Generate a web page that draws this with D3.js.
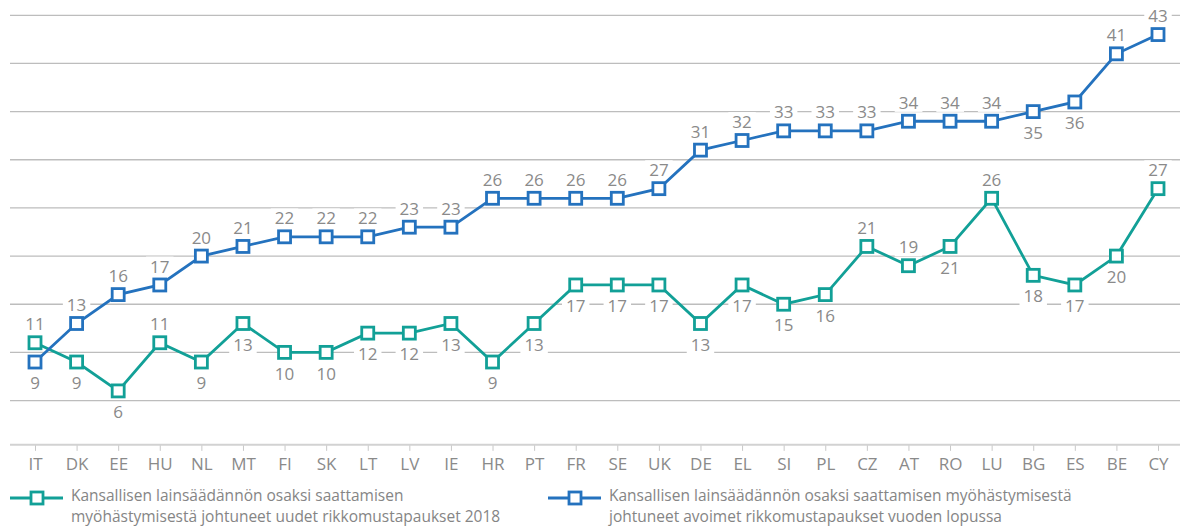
<!DOCTYPE html>
<html>
<head>
<meta charset="utf-8">
<script src="https://cdn.jsdelivr.net/npm/d3@7"></script>
<style>
  body { margin: 0; background: #fff; }
  svg { display: block; font-family: "Open Sans", "DejaVu Sans", sans-serif; }
</style>
</head>
<body>
<div id="chart"></div>
<script>
var countries = ["IT","DK","EE","HU","NL","MT","FI","SK","LT","LV","IE","HR","PT","FR","SE","UK","DE","EL","SI","PL","CZ","AT","RO","LU","BG","ES","BE","CY"];
var newCases = [11,9,6,11,9,13,10,10,12,12,13,9,13,17,17,17,13,17,15,16,21,19,21,26,18,17,20,27];
var openCases = [9,13,16,17,20,21,22,22,22,23,23,26,26,26,26,27,31,32,33,33,33,34,34,34,35,36,41,43];
// which side the value label goes: a = above, b = below
var newSide  = "abbabbb" + "bbbbbbb" + "bbbbbba" + "ababbba";
var openSide = "baaaaaa" + "aaaaaaa" + "aaaaaaa" + "aaabbaa";
var gridTicks = [5,10,15,20,25,30,35,40,45];
var legendNew = ["Kansallisen lainsäädännön osaksi saattamisen", "myöhästymisestä johtuneet uudet rikkomustapaukset 2018"];
var legendOpen = ["Kansallisen lainsäädännön osaksi saattamisen myöhästymisestä", "johtuneet avoimet rikkomustapaukset vuoden lopussa"];

var width = 1180, height = 526;
var green = "#12a097", blue = "#2472be", textGrey = "#8a8a8a";

var svg = d3.select("#chart").append("svg")
  .attr("width", width)
  .attr("height", height);

var gridG = svg.append("g");
var axisG = svg.append("g");
var boxG = svg.append("g");
var lineG = svg.append("g");
var labelG = svg.append("g");
var legendG = svg.append("g");

var x = d3.scalePoint().domain(countries).range([35, 1158]);
var y = d3.scaleLinear().domain([0, 45]).range([448.7, 15.3]);

// grid
gridG.selectAll("line").data(gridTicks).enter().append("line")
  .attr("x1", 10).attr("x2", width)
  .attr("y1", function(d) { return y(d); })
  .attr("y2", function(d) { return y(d); })
  .attr("stroke", "#bdbdbd")
  .attr("stroke-width", 1.3);

// x axis
axisG.attr("transform", "translate(0," + y(0.4) + ")")
  .call(d3.axisBottom(x).tickSize(6).tickPadding(7));
axisG.select(".domain").remove();
axisG.append("line")
  .attr("x1", 10).attr("x2", width)
  .attr("stroke", "#d2d2d2").attr("stroke-width", 2);
axisG.selectAll(".tick line").attr("stroke", "#c8c8c8");
axisG.selectAll(".tick text")
  .attr("fill", textGrey)
  .style("font-size", "17px")
  .style("font-family", "'Open Sans', sans-serif");

var series = [
  { values: newCases, side: newSide, color: green },
  { values: openCases, side: openSide, color: blue }
];

function labelY(s, i) {
  var cy = y(s.values[i]);
  return s.side[i] == "a" ? cy - 18.5 : cy + 21;
}

// value labels, with white boxes under them that knock out the grid
series.forEach(function(s) {
  s.values.forEach(function(v, i) {
    var t = labelG.append("text")
      .attr("x", x(countries[i]))
      .attr("y", labelY(s, i))
      .attr("text-anchor", "middle")
      .attr("dy", "0.36em")
      .attr("fill", textGrey)
      .style("font-size", "17px")
      .text(v);
    var bb = t.node().getBBox();
    boxG.append("rect")
      .attr("x", bb.x - 4).attr("y", bb.y + 2)
      .attr("width", bb.width + 8).attr("height", bb.height - 4)
      .attr("fill", "#fff");
  });
});

var line = d3.line()
  .x(function(d, i) { return x(countries[i]); })
  .y(function(d) { return y(d); });

series.forEach(function(s) {
  var g = lineG.append("g");
  g.append("path")
    .datum(s.values)
    .attr("d", line)
    .attr("fill", "none")
    .attr("stroke", s.color)
    .attr("stroke-width", 2.8);
  g.selectAll("rect").data(s.values).enter().append("rect")
    .attr("x", function(d, i) { return x(countries[i]) - 6; })
    .attr("y", function(d) { return y(d) - 6; })
    .attr("width", 12).attr("height", 12)
    .attr("fill", "#fff")
    .attr("stroke", s.color)
    .attr("stroke-width", 2.8);
});

// legend
function legend(lx, color, lines) {
  var g = legendG.append("g");
  g.append("line")
    .attr("x1", lx).attr("x2", lx + 53)
    .attr("y1", 498).attr("y2", 498)
    .attr("stroke", color).attr("stroke-width", 2.8);
  g.append("rect")
    .attr("x", lx + 21).attr("y", 492)
    .attr("width", 12).attr("height", 12)
    .attr("fill", "#fff").attr("stroke", color).attr("stroke-width", 2.8);
  g.selectAll("text").data(lines).enter().append("text")
    .attr("x", lx + 61)
    .attr("y", function(d, i) { return 501 + i * 21.3; })
    .attr("fill", "#858585")
    .style("font-size", "15.5px")
    .text(function(d) { return d; });
}
legend(10, green, legendNew);
legend(548, blue, legendOpen);
</script>
</body>
</html>
